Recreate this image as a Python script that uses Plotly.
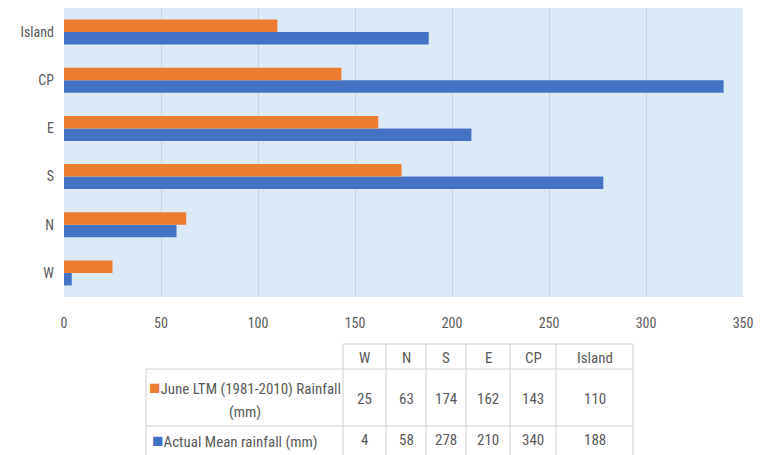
import plotly.graph_objects as go

categories = ["W", "N", "S", "E", "CP", "Island"]
ltm_values = [25, 63, 174, 162, 143, 110]
actual_values = [4, 58, 278, 210, 340, 188]
ltm_name = "June LTM (1981-2010) Rainfall (mm)"
actual_name = "Actual Mean rainfall (mm)"
x_ticks = [0, 50, 100, 150, 200, 250, 300, 350]

ORANGE = "#ED7D31"
BLUE = "#4472C4"
FONT = "Liberation Sans Narrow, Roboto Condensed, Liberation Sans, sans-serif"
GREY_TXT = "#595959"
GRID = "#D0D0D0"
W, H = 768, 455

fig = go.Figure()
fig.add_trace(go.Bar(y=categories, x=actual_values, orientation="h", name=actual_name,
                     marker=dict(color=BLUE, line=dict(width=0))))
fig.add_trace(go.Bar(y=categories, x=ltm_values, orientation="h", name=ltm_name,
                     marker=dict(color=ORANGE, line=dict(width=0))))

# ---- data table below the chart (layout in pixels, content from the arrays) ----
col_edges = [146, 343, 386, 426, 466, 510, 556, 633]
row_edges = [344, 369, 426, 470]

def px(x):
    return x / W

def py(y):
    return 1 - y / H

shapes = []
shapes.append(dict(type="line", xref="paper", yref="paper", x0=px(col_edges[1]), x1=px(col_edges[-1]),
                   y0=py(row_edges[0]), y1=py(row_edges[0]), line=dict(color=GRID, width=1)))
for yy in row_edges[1:3]:
    shapes.append(dict(type="line", xref="paper", yref="paper", x0=px(col_edges[0]), x1=px(col_edges[-1]),
                       y0=py(yy), y1=py(yy), line=dict(color=GRID, width=1)))
for i, xx in enumerate(col_edges):
    ytop = row_edges[1] if i == 0 else row_edges[0]
    shapes.append(dict(type="line", xref="paper", yref="paper", x0=px(xx), x1=px(xx),
                       y0=py(ytop), y1=py(row_edges[-1]), line=dict(color=GRID, width=1)))

annotations = []
TFS = 15
def add_text(text, xc, yc):
    annotations.append(dict(text=text, xref="paper", yref="paper", x=px(xc), y=py(yc),
                            xanchor="center", yanchor="middle", showarrow=False,
                            font=dict(family=FONT, size=TFS, color=GREY_TXT)))

def key(color):
    return "<span style='color:%s;font-size:19px'>■</span>" % color

centers = [(col_edges[i] + col_edges[i + 1]) / 2 for i in range(len(col_edges) - 1)]
for c, cat in zip(centers[1:], categories):
    add_text(cat, c, (row_edges[0] + row_edges[1]) / 2 + 1)
for c, v in zip(centers[1:], ltm_values):
    add_text(str(v), c, (row_edges[1] + row_edges[2]) / 2 + 1)
for c, v in zip(centers[1:], actual_values):
    add_text(str(v), c, 440)

ltm_words = ltm_name.rsplit(" ", 1)
add_text(key(ORANGE) + ltm_words[0], centers[0], 387)
add_text(ltm_words[1], centers[0], 412)
add_text(key(BLUE) + actual_name, centers[0] - 10, 440)

fig.update_layout(
    width=W, height=H,
    margin=dict(l=0, r=0, t=0, b=0),
    paper_bgcolor="white",
    plot_bgcolor="#DCEAF8",
    barmode="group",
    bargap=0.48,
    bargroupgap=0,
    showlegend=False,
    shapes=shapes,
    annotations=annotations,
    font=dict(family=FONT, size=14, color=GREY_TXT),
    xaxis=dict(domain=[64/W, 743/W], range=[0, 350], tickvals=x_ticks, showgrid=True,
               gridcolor="#C8D4E1", gridwidth=1, zeroline=False, showline=False, ticks="",
               automargin=False,
               ticklabelstandoff=16, tickfont=dict(size=14, color=GREY_TXT), fixedrange=True),
    yaxis=dict(domain=[1 - 297/H, 1 - 8/H], categoryorder="array", categoryarray=categories,
               showgrid=False, zeroline=False, showline=False, ticks="", ticklabelstandoff=9,
               automargin=False,
               tickfont=dict(size=14, color=GREY_TXT), fixedrange=True),
)

fig.write_html("out.html")
